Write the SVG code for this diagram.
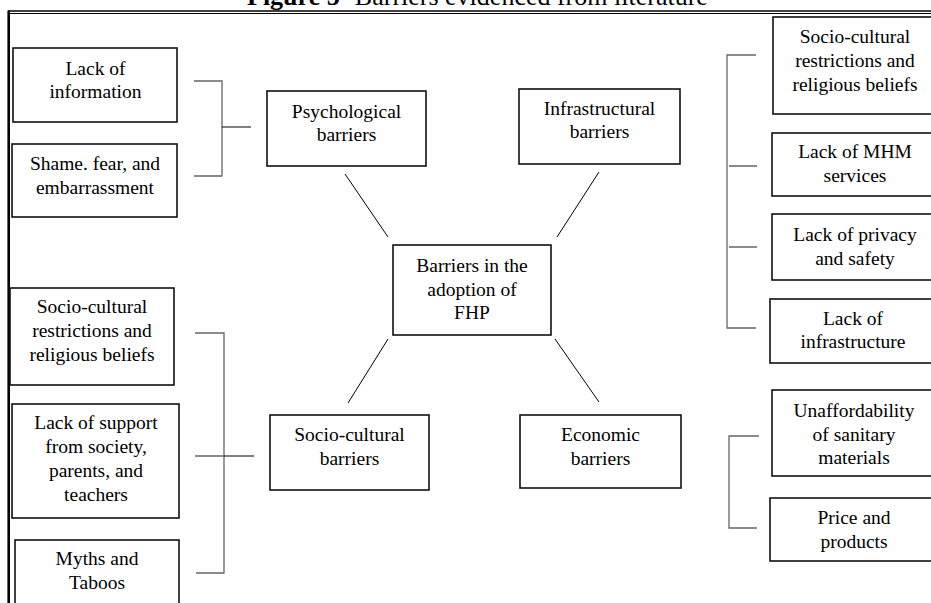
<svg xmlns="http://www.w3.org/2000/svg" width="931" height="603" viewBox="0 0 931 603">
<style>
.box{fill:#fff;stroke:#111;stroke-width:1.6}
.t{font-family:"Liberation Serif","Times New Roman",serif;font-size:19.5px;fill:#000;text-anchor:middle}
.br{fill:none;stroke:#666;stroke-width:1.3}
.ln{fill:none;stroke:#000;stroke-width:1}
.title{font-family:"Liberation Serif","Times New Roman",serif;font-size:26px;fill:#000}
</style>
<rect width="931" height="603" fill="#fff"/>
<text class="title" x="247" y="5"><tspan font-weight="bold">Figure 5-</tspan> Barriers evidenced from literature</text>
<g id="frame">
<line x1="8" y1="11" x2="931" y2="11" stroke="#000" stroke-width="1.4"/>
<line x1="8" y1="13.5" x2="931" y2="13.5" stroke="#000" stroke-width="1.2"/>
<line x1="8.7" y1="10.5" x2="8.7" y2="603" stroke="#000" stroke-width="2.6"/>
</g>
<g id="connectors">
<path class="br" d="M194,81 H222 V176 H194"/>
<path class="ln" d="M222,127 H251"/>
<path class="ln" d="M345,174 L388,237"/>
<path class="ln" d="M599,172 L557,237"/>
<path class="ln" d="M348,403 L388,339"/>
<path class="ln" d="M555,339 L599,402"/>
<path class="br" d="M756,55 H727 V328 H756"/>
<path class="br" d="M729,166 H757 M729,247 H757"/>
<path class="br" d="M195,333 H224 V573 H196 M195,456 H224"/>
<path class="ln" d="M224,456 H254"/>
<path class="br" d="M759,436 H729 V528 H757"/>
</g>
<g id="lack-information"><rect class="box" x="13" y="48" width="164" height="74"/><text class="t" x="95.5" y="75">Lack of</text><text class="t" x="95.5" y="98">information</text></g>
<g id="shame"><rect class="box" x="12" y="144" width="165" height="73"/><text class="t" x="95" y="170">Shame. fear, and</text><text class="t" x="95" y="194">embarrassment</text></g>
<g id="psychological"><rect class="box" x="267" y="91" width="159" height="75"/><text class="t" x="346.5" y="118">Psychological</text><text class="t" x="346.5" y="141">barriers</text></g>
<g id="infrastructural"><rect class="box" x="519" y="89" width="161" height="75"/><text class="t" x="599.5" y="115">Infrastructural</text><text class="t" x="599.5" y="138">barriers</text></g>
<g id="center"><rect class="box" x="393" y="245" width="158" height="90"/><text class="t" x="472" y="272">Barriers in the</text><text class="t" x="472" y="296">adoption of</text><text class="t" x="472" y="319">FHP</text></g>
<g id="r-sociocultural"><rect class="box" x="773" y="17" width="164" height="97"/><text class="t" x="855" y="43">Socio-cultural</text><text class="t" x="855" y="67">restrictions and</text><text class="t" x="855" y="91">religious beliefs</text></g>
<g id="mhm"><rect class="box" x="772" y="133" width="165" height="63"/><text class="t" x="855" y="158">Lack of MHM</text><text class="t" x="855" y="182">services</text></g>
<g id="privacy"><rect class="box" x="772" y="214" width="165" height="66"/><text class="t" x="855" y="241">Lack of privacy</text><text class="t" x="855" y="265">and safety</text></g>
<g id="infrastructure"><rect class="box" x="770" y="299" width="167" height="64"/><text class="t" x="853" y="325">Lack of</text><text class="t" x="853" y="348">infrastructure</text></g>
<g id="unaffordability"><rect class="box" x="772" y="390" width="165" height="86"/><text class="t" x="854" y="417">Unaffordability</text><text class="t" x="854" y="441">of sanitary</text><text class="t" x="854" y="464">materials</text></g>
<g id="price"><rect class="box" x="770" y="498" width="167" height="63"/><text class="t" x="854" y="524">Price and</text><text class="t" x="854" y="548">products</text></g>
<g id="l-sociocultural"><rect class="box" x="10" y="288" width="164" height="97"/><text class="t" x="92" y="313">Socio-cultural</text><text class="t" x="92" y="337">restrictions and</text><text class="t" x="92" y="361">religious beliefs</text></g>
<g id="support"><rect class="box" x="12" y="404" width="167" height="114"/><text class="t" x="96" y="429">Lack of support</text><text class="t" x="96" y="453">from society,</text><text class="t" x="96" y="477">parents, and</text><text class="t" x="96" y="501">teachers</text></g>
<g id="myths"><rect class="box" x="15" y="540" width="164" height="80"/><text class="t" x="97" y="565">Myths and</text><text class="t" x="97" y="589">Taboos</text></g>
<g id="sociocultural-barriers"><rect class="box" x="270" y="415" width="159" height="75"/><text class="t" x="349.5" y="441">Socio-cultural</text><text class="t" x="349.5" y="465">barriers</text></g>
<g id="economic"><rect class="box" x="520" y="415" width="161" height="73"/><text class="t" x="600.5" y="441">Economic</text><text class="t" x="600.5" y="465">barriers</text></g>
</svg>
